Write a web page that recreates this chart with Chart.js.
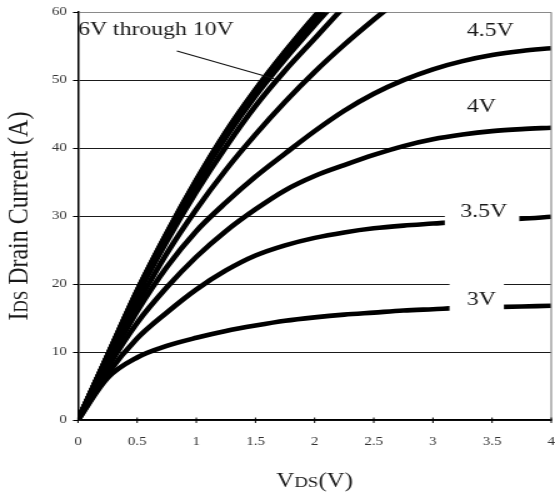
<!DOCTYPE html>
<html>
<head>
<meta charset="utf-8">
<script src="https://cdn.jsdelivr.net/npm/chart.js@4.4.1/dist/chart.umd.min.js"></script>
<style>
html,body{margin:0;padding:0;background:#fff;}
canvas{display:block;}
</style>
</head>
<body>
<canvas id="c" width="444" height="499" style="width:555px;height:499px;"></canvas>
<script>
// ---- data (VDS in volts, ID in amps) ----
const vds = [0, 0.25, 0.5, 0.75, 1, 1.25, 1.5, 1.75, 2, 2.25, 2.5, 2.75, 3, 3.25, 3.5, 3.75, 4];
const gateVoltages = ['10V', '9V', '8V', '7V', '6V', '5V', '4.5V', '4V', '3.5V', '3V'];
const id10V  = [0, 9.5, 19.0, 27.5, 35.3, 42.4, 48.6, 54.2, 59.4, 64.0];
const id9V   = [0, 9.5, 19.0, 27.4, 35.2, 42.3, 48.5, 54.1, 59.3, 63.9];
const id8V   = [0, 9.4, 18.9, 27.3, 35.1, 42.1, 48.3, 53.8, 58.9, 63.6];
const id7V   = [0, 9.4, 18.7, 27.0, 34.7, 41.6, 47.7, 53.1, 58.1, 62.9];
const id6V   = [0, 9.3, 18.3, 26.3, 33.6, 40.2, 46.2, 51.4, 56.1, 60.8, 65.0];
const id5V   = [0, 8.8, 17.0, 24.5, 31.0, 36.8, 42.0, 46.8, 51.2, 55.2, 58.9, 62.4];
const id4_5V = [0, 8.3, 16.0, 22.5, 27.8, 32.0, 35.8, 39.2, 42.5, 45.5, 48.0, 50.0, 51.6, 52.8, 53.7, 54.3, 54.7];
const id4V   = [0, 7.7, 14.3, 19.5, 24.0, 27.8, 31.0, 33.8, 35.9, 37.5, 39.0, 40.3, 41.3, 42.0, 42.5, 42.8, 43.0];
const id3_5V = [0, 6.8, 12.0, 15.8, 19.2, 22.0, 24.2, 25.7, 26.8, 27.6, 28.2, 28.6, 28.9, 29.2, 29.4, 29.6, 29.9];
const id3V   = [0, 6.2, 9.2, 10.9, 12.1, 13.1, 13.9, 14.6, 15.1, 15.5, 15.8, 16.1, 16.3, 16.5, 16.6, 16.7, 16.8];
const xTicks = [0, 0.5, 1, 1.5, 2, 2.5, 3, 3.5, 4];
const yTicks = [0, 10, 20, 30, 40, 50, 60];

const seriesValues = [id10V, id9V, id8V, id7V, id6V, id5V, id4_5V, id4V, id3_5V, id3V];

// curve labels (anchor in data units)
const curveLabels = [
  {text: '4.5V', x: 3.485, y: 57.4},
  {text: '4V',   x: 3.41,  y: 46.2},
  {text: '3.5V', x: 3.43,  y: 30.8, box: [3.10, 3.73, 28.6, 32.6]},
  {text: '3V',   x: 3.41,  y: 17.9, box: [3.14, 3.60, 16.0, 20.5]}
];
const groupNote = {text: '6V through 10V', x: 0, y: 57.6, from: [0.836, 54.3], to: [1.66, 50.2]};

const SERIF = '"Liberation Serif", "Times New Roman", serif';

const datasets = gateVoltages.map((name, i) => ({
  label: 'VGS = ' + name,
  data: seriesValues[i].map((v, j) => ({x: vds[j], y: v})),
  borderColor: '#000',
  backgroundColor: '#000',
  borderWidth: 4.6,
  pointRadius: 0,
  fill: false,
  cubicInterpolationMode: 'monotone'
}));

const decor = {
  id: 'decor',
  afterDatasetsDraw(chart) {
    const {ctx, chartArea: ca, scales: {x, y}} = chart;
    ctx.save();
    // white boxes behind labels
    curveLabels.forEach(l => {
      if (l.box) {
        const x0 = x.getPixelForValue(l.box[0]), x1 = x.getPixelForValue(l.box[1]);
        const y0 = y.getPixelForValue(l.box[3]), y1 = y.getPixelForValue(l.box[2]);
        ctx.fillStyle = '#fff';
        ctx.fillRect(x0, y0, x1 - x0, y1 - y0);
      }
    });
    // right border
    ctx.strokeStyle = '#8a8a8a';
    ctx.lineWidth = 1.2;
    ctx.beginPath();
    ctx.moveTo(ca.right, ca.top);
    ctx.lineTo(ca.right, ca.bottom);
    ctx.stroke();
    // x tick marks crossing the axis
    ctx.strokeStyle = '#000';
    ctx.lineWidth = 1;
    xTicks.forEach(t => {
      const p = x.getPixelForValue(t);
      ctx.beginPath();
      ctx.moveTo(p, ca.bottom + 3);
      ctx.lineTo(p, ca.bottom - 2.5);
      ctx.stroke();
    });
    // curve labels
    ctx.fillStyle = '#1a1a1a';
    ctx.font = '19px ' + SERIF;
    ctx.textAlign = 'center';
    ctx.textBaseline = 'alphabetic';
    curveLabels.forEach(l => {
      ctx.fillText(l.text, x.getPixelForValue(l.x), y.getPixelForValue(l.y) + 6.3);
    });
    // group note + pointer
    ctx.textAlign = 'left';
    ctx.fillText(groupNote.text, x.getPixelForValue(groupNote.x), y.getPixelForValue(groupNote.y) + 6.3);
    ctx.strokeStyle = '#111';
    ctx.lineWidth = 1.1;
    ctx.beginPath();
    ctx.moveTo(x.getPixelForValue(groupNote.from[0]), y.getPixelForValue(groupNote.from[1]));
    ctx.lineTo(x.getPixelForValue(groupNote.to[0]), y.getPixelForValue(groupNote.to[1]));
    ctx.stroke();
    ctx.restore();
  },
  afterDraw(chart) {
    const {ctx, chartArea: ca} = chart;
    ctx.save();
    ctx.fillStyle = '#1a1a1a';
    ctx.textBaseline = 'alphabetic';
    ctx.textAlign = 'left';
    const drawSegs = (segs, cx, base) => {
      let total = 0;
      segs.forEach(s => { ctx.font = s[1] + 'px ' + SERIF; s.w = ctx.measureText(s[0]).width; total += s.w; });
      let xx = cx - total / 2;
      segs.forEach(s => { ctx.font = s[1] + 'px ' + SERIF; ctx.fillText(s[0], xx, base); xx += s.w; });
    };
    // y axis title
    ctx.save();
    ctx.translate(13.6, (ca.top + ca.bottom) / 2);
    ctx.rotate(-Math.PI / 2);
    drawSegs([['I', 24], ['DS', 17], [' Drain Current (A)', 24]], 0, 8);
    ctx.restore();
    // x axis title
    drawSegs([['V', 20], ['DS', 15], ['(V)', 20]], (ca.left + ca.right) / 2, 487);
    ctx.restore();
  }
};

new Chart(document.getElementById('c'), {
  type: 'line',
  data: {datasets},
  options: {
    responsive: false,
    devicePixelRatio: 1,
    animation: false,
    layout: {padding: {top: 11, right: 3, left: 0, bottom: 0}},
    plugins: {legend: {display: false}, tooltip: {enabled: false}},
    scales: {
      x: {
        type: 'linear',
        min: 0, max: 4,
        afterBuildTicks: s => { s.ticks = xTicks.map(v => ({value: v})); },
        afterFit: s => { s.height = 79; },
        grid: {display: true, drawOnChartArea: false, drawTicks: true, tickLength: 15, tickColor: 'rgba(0,0,0,0)', color: 'rgba(0,0,0,0)'},
        border: {display: true, color: '#000', width: 1.5},
        ticks: {padding: 0, color: '#333', font: {family: SERIF, size: 12}, maxRotation: 0, callback: v => String(v)}
      },
      y: {
        type: 'linear',
        min: 0, max: 60,
        afterBuildTicks: s => { s.ticks = yTicks.map(v => ({value: v})); },
        afterFit: s => { s.width = 62.4; },
        grid: {
          display: true, drawTicks: true, tickLength: 4, tickColor: '#000',
          color: c => (c.tick && c.tick.value === 60) ? '#8a8a8a' : '#1a1a1a',
          lineWidth: 1
        },
        border: {display: true, color: '#000', width: 1.5},
        ticks: {padding: 5, color: '#333', font: {family: SERIF, size: 12}, callback: v => String(v)}
      }
    }
  },
  plugins: [decor]
});
</script>
</body>
</html>
